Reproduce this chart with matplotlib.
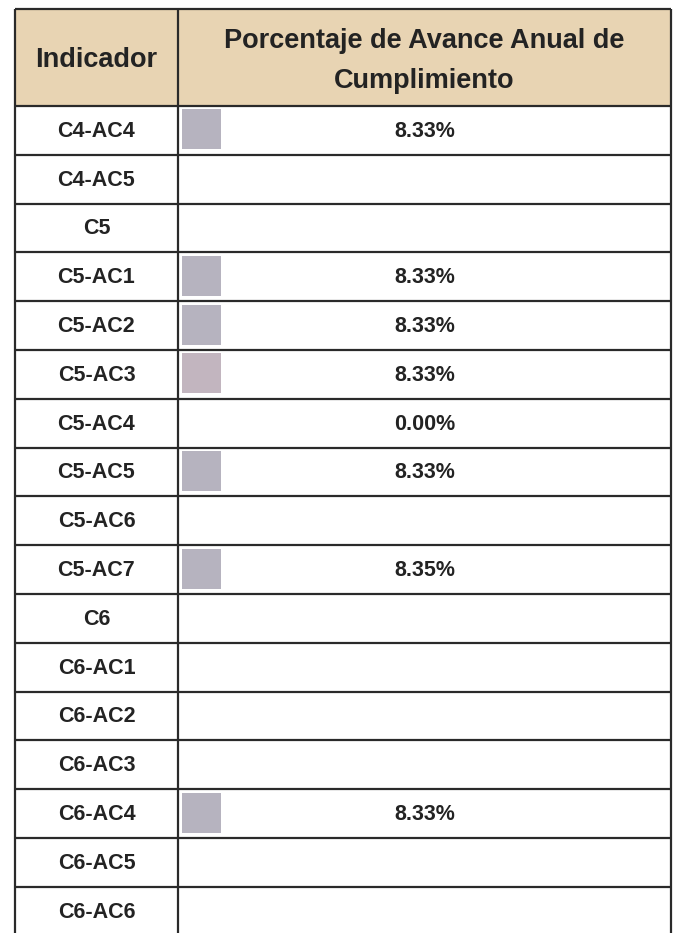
import numpy as np
import matplotlib
matplotlib.use("Agg")
import matplotlib.pyplot as plt
from matplotlib.patches import Rectangle

# datos de la tabla
indicadores = ["C4-AC4", "C4-AC5", "C5", "C5-AC1", "C5-AC2", "C5-AC3", "C5-AC4",
               "C5-AC5", "C5-AC6", "C5-AC7", "C6", "C6-AC1", "C6-AC2", "C6-AC3",
               "C6-AC4", "C6-AC5", "C6-AC6"]
avance = [8.33, np.nan, np.nan, 8.33, 8.33, 8.33, 0.00, 8.33, np.nan, 8.35,
          np.nan, np.nan, np.nan, np.nan, 8.33, np.nan, np.nan]
encabezado = ["Indicador", "Porcentaje de Avance Anual de\nCumplimiento"]

plt.rcParams['font.family'] = ['Liberation Sans', 'DejaVu Sans']

W, H = 675, 933
fig = plt.figure(figsize=(W / 100, H / 100), dpi=100)
ax = fig.add_axes([0, 0, 1, 1])
ax.set_xlim(0, W)
ax.set_ylim(H, 0)
ax.axis('off')

x_izq, x_div, x_der = 15, 178, 671
y_top, y_head = 9, 106
paso = 48.8
color_linea = "#2a2a2a"
color_texto = "#232323"

# fondo del encabezado
ax.add_patch(Rectangle((x_izq, y_top), x_der - x_izq, y_head - y_top,
                       facecolor="#E8D4B3", edgecolor="none", zorder=0))

n = len(indicadores)
centros = y_head + paso * (np.arange(n) + 0.5)
valores = np.array(avance)

# barras de datos
colores = ["#C2B5BF" if ind == "C5-AC3" else "#B6B3BF" for ind in indicadores]
escala = 475 / 100
ax.barh(centros - 1, np.nan_to_num(valores) * escala, left=181.5, height=40,
        color=colores, edgecolor="none", zorder=1)

# lineas de la tabla
lineas_h = [y_top, y_head] + list(y_head + paso * np.arange(1, n))
ax.hlines(lineas_h, x_izq, x_der, color=color_linea, linewidth=1.6, zorder=3)
ax.vlines([x_izq, x_div, x_der], y_top, H, color=color_linea, linewidth=1.6, zorder=3)

# textos del encabezado
ax.text((x_izq + x_div) / 2, 67, encabezado[0], ha='center', va='baseline',
        fontsize=19.5, fontweight='bold', color=color_texto)
for k, linea in enumerate(encabezado[1].split("\n")):
    ax.text((x_div + x_der) / 2, 48 + 40 * k, linea, ha='center', va='baseline',
            fontsize=19.5, fontweight='bold', color=color_texto)

# textos de las filas
for ind, val, yc in zip(indicadores, valores, centros):
    ax.text((x_izq + x_div) / 2, yc + 6.5, ind, ha='center', va='baseline',
            fontsize=15.5, fontweight='bold', color=color_texto)
    if not np.isnan(val):
        ax.text((x_div + x_der) / 2, yc + 6.5, f"{val:.2f}%", ha='center', va='baseline',
                fontsize=15.5, fontweight='bold', color=color_texto)

fig.savefig("out.png", dpi=100, facecolor="white")
